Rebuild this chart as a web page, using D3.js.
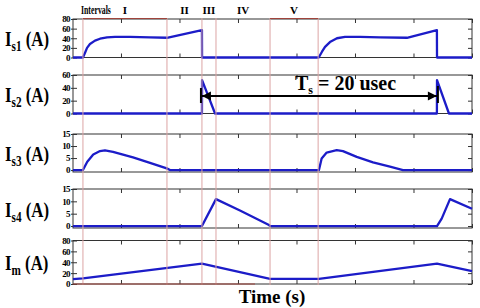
<!DOCTYPE html>
<html lang="en">
<head>
  <meta charset="UTF-8">
  <title>Switch currents</title>
  <script src="https://d3js.org/d3.v7.min.js"></script>
  <style>
    body {
      margin: 0;
      background: #fff;
      overflow: hidden;
    }
    svg text {
      font-family: "Liberation Serif", "Times New Roman", serif;
      font-weight: bold;
      fill: #000;
    }
    .tick text {
      font-size: 9px;
      letter-spacing: -0.6px;
    }
    .tick line {
      stroke: #333;
    }
  </style>
</head>
<body>
  <div id="chart"></div>
  <script>
    // time axis (usec)
    const timeTicks = [0, 5, 10, 15, 20, 25, 30];
    const intervalBounds = [-3.25, 3.93, 6.92, 8.12, 12.74, 16.85];
    const intervalNames = ["I", "II", "III", "IV", "V"];
    const tsStart = 6.92;
    const tsEnd = 27.0;

    // Is1
    const is1Time = [-4.1, -3.25, -3.07, -2.9, -2.65, -2.22, -1.79, -1.19, -0.51, 0.77, 2.48, 3.93, 6.92, 6.93,
      16.9, 17.18, 17.44, 17.86, 18.46, 19.15, 20.43, 22.14, 24.44, 27.0, 27.01, 30];
    const is1Value = [0, 0, 10, 20, 28, 35, 39, 42, 43, 43, 42, 41, 57, 0,
      0, 12, 22, 32, 40, 43, 43, 42, 41, 57, 0, 0];

    // Is2
    const is2Time = [-4.1, 6.92, 6.93, 8.04, 27.0, 27.01, 28.03, 30];
    const is2Value = [0, 0, 52, 0, 0, 52, 0, 0];

    // Is3
    const is3Time = [-4.1, -3.25, -2.88, -2.37, -1.79, -1.37, -0.68, 1.03, 2.48, 3.91, 4.19,
      16.92, 17.15, 17.58, 18.44, 18.97, 20.15, 21.54, 22.99, 24.1, 30];
    const is3Value = [0, 0, 3.5, 6.5, 7.9, 8.2, 7.6, 5.3, 3.0, 0.7, 0,
      0, 4.8, 7.3, 8.3, 7.9, 5.5, 3.2, 1.4, 0, 0];

    // Is4
    const is4Time = [-4.1, 6.92, 8.12, 10.17, 12.65, 12.74, 27.01, 27.41, 28.12, 30];
    const is4Value = [0, 0, 10.9, 6.3, 0.4, 0, 0, 3, 10.9, 7];

    // Im
    const imTime = [-4.1, -3.25, 6.92, 10.17, 12.74, 16.92, 27.01, 30];
    const imValue = [9, 10.5, 37.5, 21.9, 9.6, 9.6, 37.5, 23.5];

    const W = 480, H = 308;
    const left = 73, right = 472;

    const panels = [
      { name: "s1", t: is1Time, v: is1Value, domain: [0, 80], ticks: [0, 20, 40, 60, 80], top: 19, bottom: 57.5 },
      { name: "s2", t: is2Time, v: is2Value, domain: [0, 60], ticks: [0, 20, 40, 60], top: 75, bottom: 113.5 },
      { name: "s3", t: is3Time, v: is3Value, domain: [-0.8, 15], ticks: [0, 5, 10, 15], top: 134, bottom: 172 },
      { name: "s4", t: is4Time, v: is4Value, domain: [-0.8, 15], ticks: [0, 5, 10, 15], top: 189, bottom: 228 },
      { name: "m", t: imTime, v: imValue, domain: [0, 80], ticks: [0, 20, 40, 60, 80], top: 240.5, bottom: 284 }
    ];

    const svg = d3.select("#chart").append("svg")
      .attr("width", W)
      .attr("height", H);

    const x = d3.scaleLinear().domain([-4.1, 30]).range([left, right]);

    // interval markers
    const red = svg.append("g");
    red.selectAll("line.bound")
      .data(intervalBounds)
      .join("line")
      .attr("class", "bound")
      .attr("x1", d => x(d)).attr("x2", d => x(d))
      .attr("y1", 18).attr("y2", 285)
      .attr("stroke", "#dca4a4")
      .attr("stroke-width", 1);

    panels.forEach((p, i) => {
      const y = d3.scaleLinear().domain(p.domain).range([p.bottom, p.top]);
      const g = svg.append("g");

      g.append("rect")
        .attr("x", left).attr("y", p.top)
        .attr("width", right - left).attr("height", p.bottom - p.top)
        .attr("fill", "none")
        .attr("stroke", "#333")
        .attr("stroke-width", 1);

      // time ticks, inward top and bottom
      g.append("g")
        .attr("transform", `translate(0,${p.bottom})`)
        .call(d3.axisTop(x).tickValues(timeTicks).tickSize(4).tickFormat(""))
        .call(a => a.select(".domain").remove());
      g.append("g")
        .attr("transform", `translate(0,${p.top})`)
        .call(d3.axisBottom(x).tickValues(timeTicks).tickSize(4).tickFormat(""))
        .call(a => a.select(".domain").remove());

      // y ticks
      g.append("g")
        .attr("transform", `translate(${left},0)`)
        .call(d3.axisLeft(y).tickValues(p.ticks).tickSize(2).tickPadding(1))
        .call(a => a.select(".domain").remove());
      g.append("g")
        .attr("transform", `translate(${left},0)`)
        .call(d3.axisRight(y).tickValues(p.ticks).tickSize(4).tickFormat(""))
        .call(a => a.select(".domain").remove());
      g.append("g")
        .attr("transform", `translate(${right},0)`)
        .call(d3.axisLeft(y).tickValues(p.ticks).tickSize(4).tickFormat(""))
        .call(a => a.select(".domain").remove());

      const line = d3.line()
        .x(d => x(d[0]))
        .y(d => y(d[1]));

      g.append("path")
        .datum(d3.zip(p.t, p.v))
        .attr("d", line)
        .attr("fill", "none")
        .attr("stroke", "#1c1cc8")
        .attr("stroke-width", 2.3)
        .attr("stroke-linejoin", "round");

      const label = svg.append("text")
        .attr("transform", `translate(5,${(p.top + p.bottom) / 2 + 8}) scale(0.8,1)`)
        .style("font-size", "21px");
      label.append("tspan").text("I");
      label.append("tspan")
        .attr("dy", 5)
        .style("font-size", "14px")
        .text(p.name);
      label.append("tspan")
        .attr("dy", -5)
        .text(" (A)");
    });

    // red top edges of intervals I and V
    red.raise();
    [[0, 1], [4, 5]].forEach(([a, b]) => {
      svg.append("line")
        .attr("x1", x(intervalBounds[a])).attr("x2", x(intervalBounds[b]))
        .attr("y1", 18.5).attr("y2", 18.5)
        .attr("stroke", "#a0443c")
        .attr("stroke-width", 1.2);
    });
    svg.append("line")
      .attr("x1", left).attr("x2", 255)
      .attr("y1", 284).attr("y2", 284)
      .attr("stroke", "#a0443c")
      .attr("stroke-width", 1);
    svg.selectAll("path").raise();

    // interval names
    svg.append("text")
      .attr("transform", "translate(81,14) scale(0.65,1)")
      .style("font-size", "12px")
      .text("Intervals");
    svg.selectAll("text.iv")
      .data(intervalNames)
      .join("text")
      .attr("class", "iv")
      .attr("x", (d, i) => x((intervalBounds[i] + intervalBounds[i + 1]) / 2))
      .attr("y", 14)
      .attr("text-anchor", "middle")
      .style("font-size", "11px")
      .text(d => d);

    // Ts arrow
    const ay = 96;
    const ts = svg.append("g").attr("stroke", "#000").attr("fill", "#000");
    ts.append("line")
      .attr("x1", x(tsStart)).attr("x2", x(tsEnd))
      .attr("y1", ay).attr("y2", ay)
      .attr("stroke-width", 1.8);
    ts.append("path")
      .attr("d", `M${x(tsStart)},${ay}L${x(tsStart) + 9},${ay - 4.5}L${x(tsStart) + 9},${ay + 4.5}Z`)
      .attr("stroke", "none");
    ts.append("path")
      .attr("d", `M${x(tsEnd)},${ay}L${x(tsEnd) - 9},${ay - 4.5}L${x(tsEnd) - 9},${ay + 4.5}Z`)
      .attr("stroke", "none");
    ts.append("line")
      .attr("x1", x(tsStart) - 1).attr("x2", x(tsStart) - 1)
      .attr("y1", ay - 8).attr("y2", ay + 7)
      .attr("stroke-width", 2);
    ts.append("line")
      .attr("x1", x(tsEnd) + 1).attr("x2", x(tsEnd) + 1)
      .attr("y1", ay - 10).attr("y2", ay + 7)
      .attr("stroke-width", 2);

    const tsLabel = svg.append("text")
      .attr("x", 295).attr("y", 90)
      .style("font-size", "20px");
    tsLabel.append("tspan").text("T");
    tsLabel.append("tspan").attr("dy", 4).style("font-size", "12px").text("s");
    tsLabel.append("tspan").attr("dy", -4).text(" = 20 usec");

    svg.append("text")
      .attr("x", 272).attr("y", 303)
      .attr("text-anchor", "middle")
      .style("font-size", "19px")
      .text("Time (s)");
  </script>
</body>
</html>
